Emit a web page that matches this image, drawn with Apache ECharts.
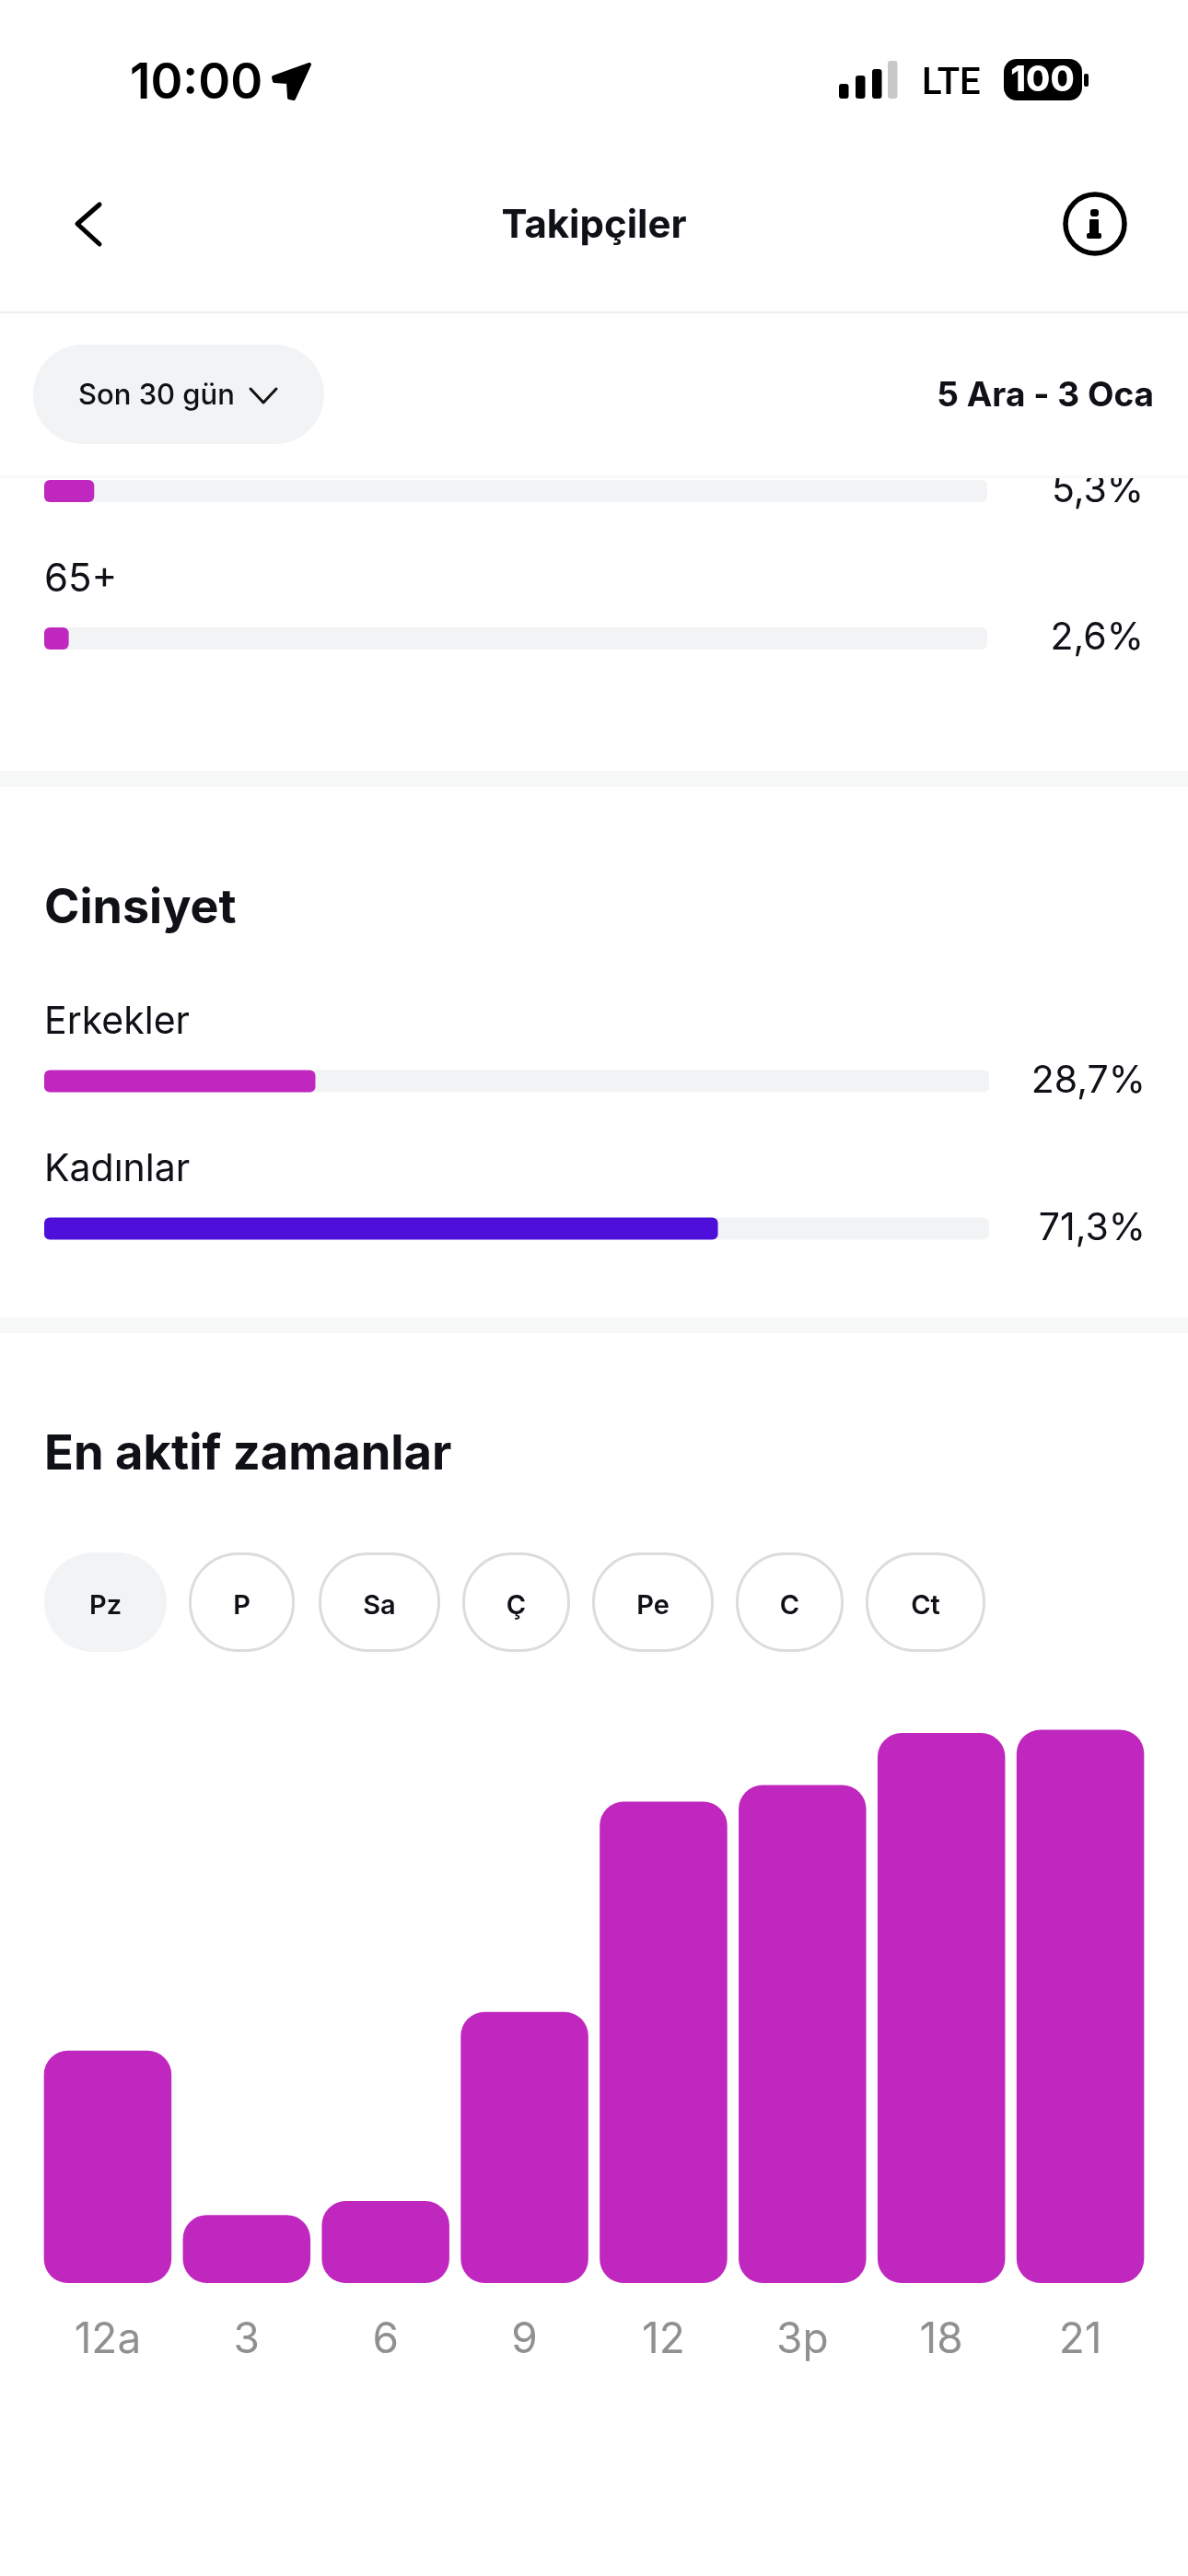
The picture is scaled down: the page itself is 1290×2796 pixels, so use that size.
<!DOCTYPE html>
<html><head><meta charset="utf-8">
<style>html,body{margin:0;padding:0;background:#fff}#c{width:1290px;height:2796px}</style>
<script src="https://cdn.jsdelivr.net/npm/echarts@6/dist/echarts.min.js"></script>
</head><body><div id="c"></div>
<script>
const ageLabels = ['', '65+'];
const ageValues = [5.3, 2.6];
const genderLabels = ['Erkekler', 'Kadınlar'];
const genderValues = [28.7, 71.3];
const hourLabels = ['12a', '3', '6', '9', '12', '3p', '18', '21'];
const hourValues = [42, 12.3, 14.8, 49, 87, 90, 99.4, 100];
const dayLabels = ['Pz', 'P', 'Sa', 'Ç', 'Pe', 'C', 'Ct'];
const periodText = 'Son 30 gün';
const rangeText = '5 Ara - 3 Oca';
const headerTitle = 'Takipçiler';
const clockText = '10:00';
const netText = 'LTE';
const batteryText = '100';
const genderTitle = 'Cinsiyet';
const activeTitle = 'En aktif zamanlar';

const PINK = '#C027BE', INDIGO = '#4E0FDB', TRACK = '#F2F3F5', INK = '#0F1117';
const FF = 'Inter';
const fmt = v => String(v).replace('.', ',') + '%';
const dayBoxes = [[48,133],[205,115],[346,132],[502,117],[643,132],[799,117],[940,130]];

const g = [];
function text(t, x, y, size, weight, color, align, family, z) {
  g.push({type:'text', z:z||101, style:{text:t, x, y, font:`${weight} ${size}px "${family||FF}"`, fill:color||INK, align:align||'left', verticalAlign:'middle'}});
}
function rect(x,y,w,h,r,fill,z,stroke,lw){
  g.push({type:'rect', z:z||101, shape:{x,y,width:w,height:h,r}, style:{fill:fill||'none', stroke, lineWidth:lw}});
}
function line(pts,lw,color){
  g.push({type:'polyline', z:102, shape:{points:pts}, style:{stroke:color||'#000', lineWidth:lw, fill:'none', lineCap:'round', lineJoin:'round'}});
}
// header cover
rect(0,0,1290,516,0,'#fff',100);
rect(0,516,1290,3,0,'#F8F8F8',100);
rect(0,338,1290,2,0,'#EEEEEF',101);
// status bar
text(clockText,141,91,53,600,'#000');
g.push({type:'polygon',z:102,shape:{points:[[336,70],[319,107],[314,106],[313,89],[298,88],[297,84]]},style:{fill:'#000',stroke:'#000',lineWidth:4,lineJoin:'round'}});
[[911,91,'#000'],[929,82,'#000'],[947,75,'#000'],[964,66,'#C8C8C8']].forEach(b=>rect(b[0],b[1],10.5,107-b[1],3,b[2],102));
text(netText,1001,92,40,500,'#000','left','Roboto');
rect(1090,64,85,45,14,'#000',102);
rect(1177,80,5,14,2,'#000',102);
text(batteryText,1132,88,38,800,'#fff','center','Inter',103);
// nav bar
line([[108,222],[84,243],[108,265]],5);
text(headerTitle,645,245,42,650,INK,'center');
g.push({type:'circle',z:102,shape:{cx:1189,cy:243,r:32},style:{fill:'none',stroke:'#000',lineWidth:5.5}});
rect(1184,227,9,8,3,'#000',103);
rect(1183,238,10,16,1,'#000',103);
rect(1180,253,16,6,2,'#000',103);
// filter row
rect(36,374,316,108,54,TRACK,101);
text(periodText,85,430,31,500,INK);
line([[272,422],[286,437],[300,422]],3,'#111');
text(rangeText,1253,430,37,700,INK,'right');
// age label
text(ageLabels[1],48,629,42,400,INK,'left',FF,5);
// dividers
rect(0,837,1290,17,0,'#F7F8F8',5);
rect(0,1430,1290,17,0,'#F7F8F8',5);
// section titles
text(genderTitle,48,986,52,700,INK,'left',FF,5);
genderLabels.forEach((t,i)=>text(t,48,1110+i*160,41,400,INK,'left',FF,5));
text(activeTitle,48,1579,52.5,700,INK,'left',FF,5);
// day pills
dayLabels.forEach((t,i)=>{
  const b=dayBoxes[i];
  if(i===0) rect(b[0],1685,b[1],108,54,TRACK,5);
  else rect(b[0]+1.5,1686.5,b[1]-3,105,52,'#fff',5,'#DCDCDC',3);
  text(t,b[0]+b[1]/2,1743,29,600,INK,'center',FF,6);
});

function hBars(gridIndex, cats, vals, colors){
  return {type:'bar', xAxisIndex:gridIndex, yAxisIndex:gridIndex*2, barWidth:24,
    showBackground:true, backgroundStyle:{color:TRACK,borderRadius:6},
    itemStyle:{borderRadius:6},
    data:vals.map((v,i)=>({value:v,itemStyle:{color:colors[i]}})), silent:true, animation:false};
}
function hx(i){return {gridIndex:i,type:'value',min:0,max:100,show:false};}
function hy(i,cats){return {gridIndex:i,type:'category',inverse:true,data:cats,axisLine:{show:false},axisTick:{show:false},axisLabel:{show:false}};}
function hyR(i,vals){return {gridIndex:i,type:'category',inverse:true,position:'right',data:vals.map(fmt),axisLine:{show:false},axisTick:{show:false},
  axisLabel:{show:true,align:'right',margin:170,fontFamily:FF,fontSize:41,fontWeight:400,color:INK,padding:[6,0,0,0]}};}

const option = {
  backgroundColor:'#fff', animation:false,
  grid:[
    {left:48,top:453,width:1024,height:320},
    {left:48,top:1093.5,width:1026,height:320},
    {left:41.5,top:1800,width:1207,height:678}
  ],
  xAxis:[hx(0),hx(1),{gridIndex:2,type:'category',data:hourLabels,axisLine:{show:false},axisTick:{show:false},
    axisLabel:{margin:39,fontFamily:FF,fontSize:46,fontWeight:400,color:'#909090',interval:0}}],
  yAxis:[hy(0,ageLabels),hyR(0,ageValues),hy(1,genderLabels),hyR(1,genderValues),
    {gridIndex:2,type:'value',min:0,max:112.9,show:false}],
  series:[
    hBars(0,ageLabels,ageValues,[PINK,PINK]),
    hBars(1,genderLabels,genderValues,[PINK,INDIGO]),
    {type:'bar',xAxisIndex:2,yAxisIndex:4,barWidth:138.5,data:hourValues,itemStyle:{color:PINK,borderRadius:26},silent:true}
  ],
  graphic:g
};
const chart = echarts.init(document.getElementById('c'));
chart.setOption(option);
</script></body></html>
